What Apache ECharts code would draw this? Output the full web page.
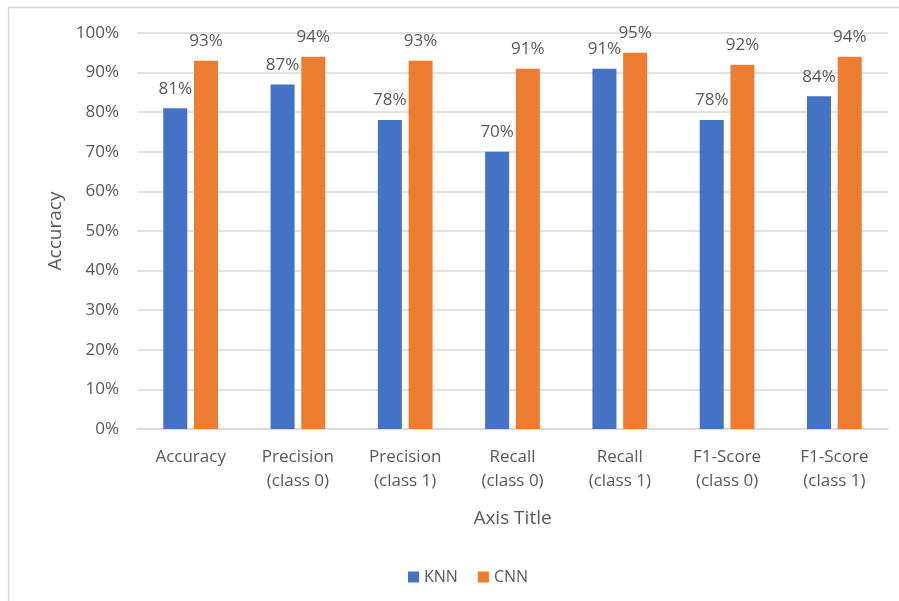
<!DOCTYPE html>
<html>
<head>
<meta charset="utf-8">
<script src="https://cdn.jsdelivr.net/npm/echarts@6/dist/echarts.min.js"></script>
<style>
  html, body { margin: 0; padding: 0; background: #fff; }
  #chart { width: 899px; height: 601px; }
</style>
</head>
<body>
<div id="chart"></div>
<script>
var categories = [
  "Accuracy",
  "Precision\n(class 0)",
  "Precision\n(class 1)",
  "Recall\n(class 0)",
  "Recall\n(class 1)",
  "F1-Score\n(class 0)",
  "F1-Score\n(class 1)"
];
var knnValues = [81, 87, 78, 70, 91, 78, 84];
var cnnValues = [93, 94, 93, 91, 95, 92, 94];
var seriesNames = ["KNN", "CNN"];

var chart = echarts.init(document.getElementById("chart"));
var font = "Open Sans, Liberation Sans, sans-serif";
var textColor = "#595959";

var labelStyle = {
  show: true,
  position: "top",
  distance: 11,
  color: textColor,
  fontSize: 17,
  fontFamily: font,
  formatter: function (p) { return p.value + "%"; }
};

var option = {
  animation: false,
  backgroundColor: "#fff",
  graphic: [{
    type: "rect",
    shape: { x: 8.5, y: 7.5, width: 920, height: 620 },
    style: { fill: "none", stroke: "#d9d9d9", lineWidth: 1.5 },
    silent: true
  }],
  grid: { left: 137, right: 11, top: 33, bottom: 172 },
  legend: {
    data: seriesNames,
    top: 564,
    left: 403,
    itemWidth: 11,
    itemHeight: 11,
    itemGap: 20,
    icon: "rect",
    textStyle: { color: textColor, fontSize: 16, fontFamily: font }
  },
  xAxis: {
    type: "category",
    data: categories,
    name: "Axis Title",
    nameLocation: "middle",
    nameGap: 80,
    nameTextStyle: { color: textColor, fontSize: 19, fontFamily: font },
    axisLine: { lineStyle: { color: "#d9d9d9", width: 1.5 } },
    axisTick: { show: false },
    axisLabel: {
      color: textColor, fontSize: 17, fontFamily: font,
      margin: 16, lineHeight: 24, interval: 0
    }
  },
  yAxis: {
    type: "value",
    min: 0,
    max: 100,
    interval: 10,
    name: "Accuracy",
    nameLocation: "middle",
    nameGap: 72,
    nameRotate: 90,
    nameTextStyle: { color: textColor, fontSize: 19, fontFamily: font },
    axisLine: { show: false },
    axisTick: { show: false },
    splitLine: { lineStyle: { color: "#d9d9d9", width: 1.5 } },
    axisLabel: {
      color: textColor, fontSize: 17, fontFamily: font, margin: 18,
      formatter: "{value}%"
    }
  },
  series: [
    {
      name: seriesNames[0],
      type: "bar",
      data: knnValues,
      barWidth: 24,
      barGap: "28%",
      itemStyle: { color: "#4472c4" },
      label: labelStyle
    },
    {
      name: seriesNames[1],
      type: "bar",
      data: cnnValues,
      barWidth: 24,
      itemStyle: { color: "#ed7d31" },
      label: labelStyle
    }
  ]
};
chart.setOption(option);
</script>
</body>
</html>
